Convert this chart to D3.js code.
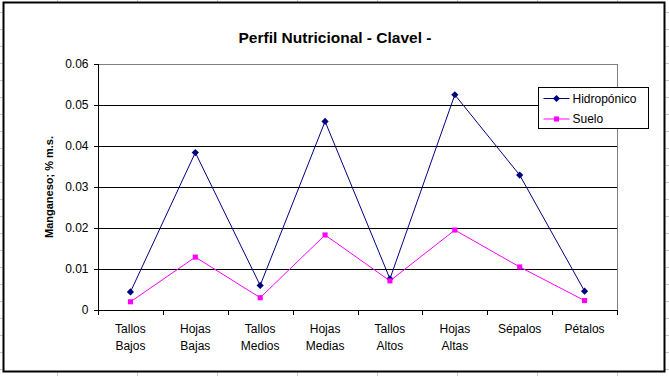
<!DOCTYPE html>
<html>
<head>
<meta charset="utf-8">
<script src="https://cdn.jsdelivr.net/npm/d3@7"></script>
<style>
  body { margin: 0; background: #fff; }
  svg { display: block; font-family: "Liberation Sans", Arial, sans-serif; }
</style>
</head>
<body>
<svg id="chart" width="669" height="376"></svg>
<script>
// data
const categories = ["Tallos\nBajos", "Hojas\nBajas", "Tallos\nMedios", "Hojas\nMedias",
                    "Tallos\nAltos", "Hojas\nAltas", "Sépalos", "Pétalos"];
const hidroponico = [0.0044, 0.0384, 0.0060, 0.0460, 0.0076, 0.0525, 0.0329, 0.0046];
const suelo = [0.0020, 0.0129, 0.0030, 0.0183, 0.0071, 0.0195, 0.0105, 0.0023];
const yTicks = [0, 0.01, 0.02, 0.03, 0.04, 0.05, 0.06];

// excel style diamond: a square turned 45 degrees
const rhombus = {
  draw(ctx, size) {
    const r = Math.sqrt(size / 2);
    ctx.moveTo(0, -r); ctx.lineTo(r, 0); ctx.lineTo(0, r); ctx.lineTo(-r, 0); ctx.closePath();
  }
};

const series = [
  {name: "Hidropónico", values: hidroponico, color: "#000080", symbol: rhombus, size: 26},
  {name: "Suelo", values: suelo, color: "#ff00ff", symbol: d3.symbolSquare, size: 26}
];

const W = 669, H = 376;
const svg = d3.select("#chart");

// spreadsheet cells behind the chart
const sheet = svg.append("g").attr("stroke", "#c8c8c8").attr("shape-rendering", "crispEdges");
sheet.selectAll("line.col").data(d3.range(57, W, 80)).join("line")
  .attr("x1", d => d + 0.5).attr("x2", d => d + 0.5).attr("y1", 0).attr("y2", H);
sheet.selectAll("line.row").data(d3.range(12, H, 17)).join("line")
  .attr("x1", 0).attr("x2", W).attr("y1", d => d + 0.5).attr("y2", d => d + 0.5);

// chart area
svg.append("rect")
  .attr("x", 3.5).attr("y", 2.5).attr("width", 661).attr("height", 369)
  .attr("fill", "#fff").attr("stroke", "#000").attr("stroke-width", 2);

const plot = {left: 98, right: 617, top: 64, bottom: 310};

const x = d3.scaleBand().domain(categories).range([plot.left, plot.right]);
const y = d3.scaleLinear().domain([0, 0.06]).range([plot.bottom, plot.top]);

svg.append("text")
  .attr("x", 335).attr("y", 43)
  .attr("text-anchor", "middle")
  .attr("font-size", 15.5).attr("font-weight", "bold")
  .text("Perfil Nutricional - Clavel -");

// plot border (grey top and right)
svg.append("path")
  .attr("d", `M${plot.left},${plot.top + 0.5}H${plot.right + 0.5}V${plot.bottom}`)
  .attr("fill", "none").attr("stroke", "#808080").attr("shape-rendering", "crispEdges");

// gridlines
svg.append("g").attr("shape-rendering", "crispEdges")
  .selectAll("line").data(yTicks.slice(1, -1)).join("line")
  .attr("x1", plot.left).attr("x2", plot.right)
  .attr("y1", d => Math.round(y(d)) + 0.5).attr("y2", d => Math.round(y(d)) + 0.5)
  .attr("stroke", "#000");

// y axis
const yAxis = svg.append("g")
  .attr("transform", `translate(${plot.left + 0.5},0)`)
  .call(d3.axisLeft(y).tickValues(yTicks).tickSize(5).tickPadding(5)
    .tickFormat(d => d === 0 ? "0" : d3.format(".2f")(d)));
yAxis.selectAll("text").attr("font-size", 12).attr("fill", "#000").attr("font-family", "Liberation Sans, Arial, sans-serif");
yAxis.selectAll("line, path").attr("stroke", "#000").attr("shape-rendering", "crispEdges");
yAxis.select(".domain").attr("d", `M0,${plot.top}V${plot.bottom}`);

svg.append("text")
  .attr("transform", `translate(53,${(plot.top + plot.bottom) / 2}) rotate(-90)`)
  .attr("text-anchor", "middle")
  .attr("font-size", 11).attr("font-weight", "bold")
  .text("Manganeso; % m.s.");

// x axis with ticks between categories
const xg = svg.append("g").attr("shape-rendering", "crispEdges");
xg.append("line")
  .attr("x1", plot.left).attr("x2", plot.right)
  .attr("y1", plot.bottom + 0.5).attr("y2", plot.bottom + 0.5).attr("stroke", "#000");
const edges = categories.map(c => x(c)).concat([plot.right]);
xg.selectAll("line.tick").data(edges).join("line")
  .attr("class", "tick")
  .attr("x1", d => Math.round(d) + 0.5).attr("x2", d => Math.round(d) + 0.5)
  .attr("y1", plot.bottom).attr("y2", plot.bottom + 5).attr("stroke", "#000");

const xl = svg.append("g").selectAll("text").data(categories).join("text")
  .attr("text-anchor", "middle")
  .attr("font-size", 12)
  .attr("x", d => x(d) + x.bandwidth() / 2)
  .attr("y", plot.bottom + 23);
xl.selectAll("tspan").data(d => d.split("\n").map(s => ({s, parent: d}))).join("tspan")
  .attr("x", d => x(d.parent) + x.bandwidth() / 2)
  .attr("dy", (d, i) => i === 0 ? 0 : 17)
  .text(d => d.s);

// series
const line = d3.line()
  .x((d, i) => x(categories[i]) + x.bandwidth() / 2)
  .y(d => y(d));

series.forEach(s => {
  svg.append("path")
    .datum(s.values)
    .attr("d", line)
    .attr("fill", "none").attr("stroke", s.color).attr("stroke-width", 1);
  svg.append("g").selectAll("path").data(s.values).join("path")
    .attr("transform", (d, i) => `translate(${x(categories[i]) + x.bandwidth() / 2},${y(d)})`)
    .attr("d", d3.symbol(s.symbol, s.size))
    .attr("fill", s.color);
});

// legend
const lg = svg.append("g").attr("transform", "translate(538.5,87.5)");
lg.append("rect").attr("width", 110).attr("height", 41)
  .attr("fill", "#fff").attr("stroke", "#000").attr("shape-rendering", "crispEdges");
series.forEach((s, i) => {
  const yy = 11 + i * 20.5;
  lg.append("line").attr("x1", 5).attr("x2", 31).attr("y1", yy).attr("y2", yy)
    .attr("stroke", s.color);
  lg.append("path").attr("transform", `translate(18,${yy})`)
    .attr("d", d3.symbol(s.symbol, s.size)).attr("fill", s.color);
  lg.append("text").attr("x", 34).attr("y", yy + 4)
    .attr("font-size", 12).text(s.name);
});
</script>
</body>
</html>
